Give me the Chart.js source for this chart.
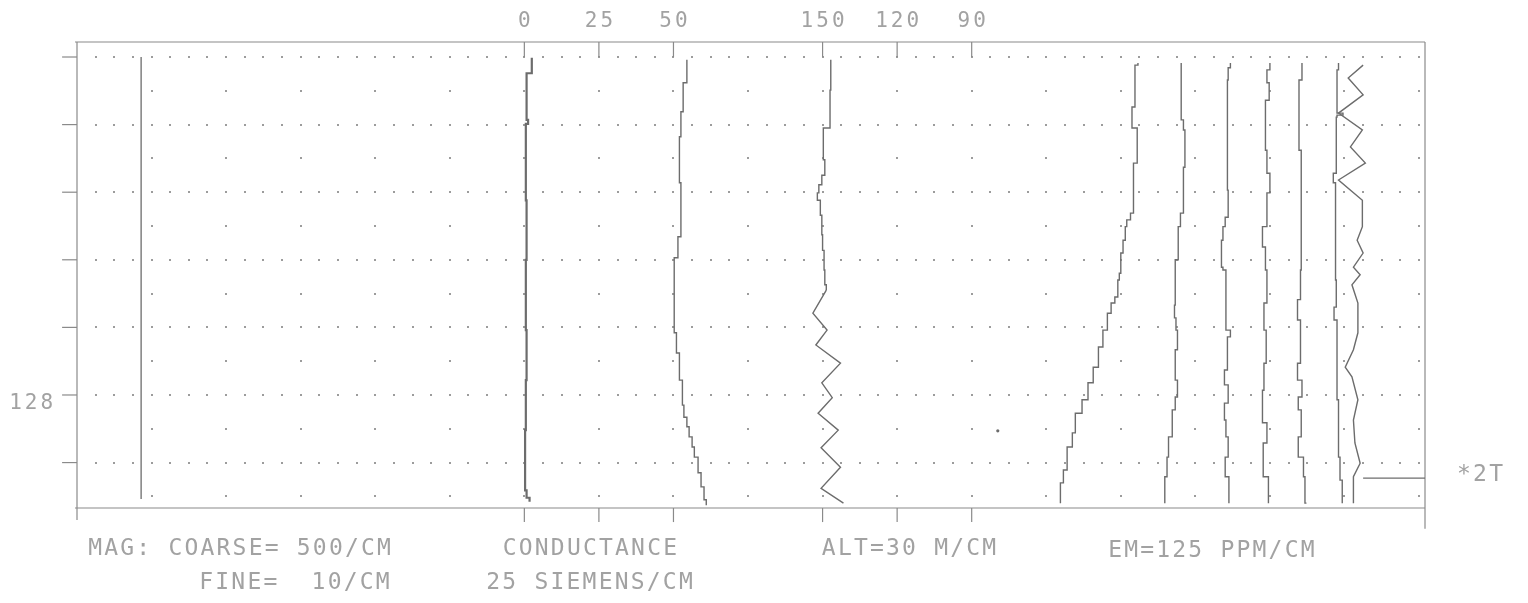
<!DOCTYPE html>
<html>
<head>
<meta charset="utf-8">
<title>Profile plot</title>
<script src="https://cdn.jsdelivr.net/npm/chart.js@4.4.1/dist/chart.umd.min.js"></script>
<style>
  html, body { margin: 0; padding: 0; background: #fff; }
  canvas { display: block; }
</style>
</head>
<body>
<canvas id="profileChart" width="1528" height="603"></canvas>
<script>
// every trace is a list of [fiducial row, position across sheet in cm]
const magCoarse = [[0.00, 0.86], [6.54, 0.86]];

const magFine = [[0.01, 6.10], [0.24, 6.03], [0.93, 6.05], [0.99, 6.02], [2.12, 6.03], [3.00, 6.02],
  [4.04, 6.03], [4.78, 6.02], [5.52, 6.01], [6.41, 6.03], [6.52, 6.07], [6.58, 6.07]];

const conductance = [[0.04, 8.18], [0.38, 8.13], [0.81, 8.10], [1.18, 8.08], [1.86, 8.10], [2.66, 8.06],
  [2.97, 8.01], [4.08, 8.04], [4.38, 8.08], [4.78, 8.12], [5.15, 8.14], [5.33, 8.18], [5.47, 8.21],
  [5.62, 8.25], [5.77, 8.28], [5.92, 8.33], [6.15, 8.37], [6.36, 8.41], [6.55, 8.44], [6.63, 8.44]];

const altSteps = [[0.04, 10.11], [0.49, 10.10], [1.05, 10.01], [1.52, 10.03], [1.75, 9.99], [1.89, 9.95],
  [2.01, 9.93], [2.12, 9.97], [2.34, 9.99], [2.63, 10.00], [2.86, 10.02], [3.15, 10.03], [3.37, 10.05],
  [3.45, 10.05]];

const altZigzag = [[3.45, 10.05], [3.79, 9.87], [4.04, 10.06], [4.26, 9.91], [4.53, 10.24], [4.82, 9.99],
  [5.04, 10.13], [5.27, 9.94], [5.52, 10.21], [5.78, 9.98], [6.07, 10.24], [6.38, 9.98], [6.60, 10.28]];

const em1 = [[0.09, 14.23], [0.12, 14.19], [0.74, 14.15], [1.05, 14.22], [1.57, 14.17], [2.31, 14.13],
  [2.41, 14.08], [2.51, 14.06], [2.71, 14.03], [2.90, 14.00], [3.20, 13.98], [3.30, 13.96], [3.55, 13.92],
  [3.64, 13.87], [3.79, 13.82], [4.04, 13.76], [4.29, 13.70], [4.59, 13.63], [4.82, 13.56], [5.07, 13.48],
  [5.27, 13.39], [5.56, 13.35], [5.77, 13.28], [6.11, 13.23], [6.30, 13.19], [6.60, 13.19]];

const em2 = [[0.09, 14.81], [0.93, 14.84], [1.08, 14.86], [1.63, 14.84], [2.31, 14.80], [2.51, 14.77],
  [3.00, 14.73], [3.67, 14.72], [3.86, 14.74], [4.04, 14.76], [4.33, 14.73], [4.78, 14.76], [5.03, 14.73],
  [5.22, 14.69], [5.62, 14.64], [5.92, 14.62], [6.21, 14.59], [6.60, 14.59]];

const em3 = [[0.09, 15.47], [0.16, 15.44], [0.34, 15.43], [1.97, 15.44], [2.37, 15.40], [2.51, 15.37],
  [2.71, 15.35], [3.11, 15.37], [3.15, 15.41], [4.04, 15.47], [4.14, 15.43], [4.63, 15.39], [4.85, 15.44],
  [5.12, 15.39], [5.37, 15.41], [5.62, 15.44], [5.92, 15.40], [6.21, 15.45], [6.60, 15.45]];

const em4 = [[0.09, 16.00], [0.19, 15.96], [0.38, 15.99], [0.64, 15.94], [1.38, 15.96], [1.72, 16.00],
  [2.01, 15.96], [2.51, 15.90], [2.81, 15.94], [3.15, 15.96], [3.64, 15.92], [4.04, 15.95], [4.53, 15.92],
  [4.93, 15.90], [5.41, 15.96], [5.71, 15.91], [6.21, 15.98], [6.60, 15.98]];

const em5 = [[0.09, 16.43], [0.34, 16.39], [1.38, 16.42], [3.15, 16.41], [3.59, 16.37], [3.89, 16.41],
  [4.53, 16.37], [4.78, 16.43], [5.03, 16.38], [5.22, 16.42], [5.62, 16.38], [5.92, 16.45], [6.21, 16.47],
  [6.60, 16.49]];

const em6 = [[0.09, 16.92], [0.19, 16.90], [0.83, 16.98], [0.86, 16.90], [0.89, 16.89], [1.72, 16.85],
  [1.86, 16.88], [3.30, 16.89], [3.70, 16.86], [3.89, 16.90], [5.07, 16.92], [5.92, 16.94], [6.26, 16.97],
  [6.60, 16.97]];

const em7 = [[0.12, 17.25], [0.31, 17.05], [0.56, 17.25], [0.83, 16.92], [1.08, 17.24], [1.33, 17.08],
  [1.57, 17.28], [1.82, 16.92], [2.12, 17.24], [2.51, 17.24], [2.71, 17.17], [2.90, 17.25], [3.11, 17.12],
  [3.22, 17.21], [3.37, 17.10], [3.64, 17.18], [4.08, 17.18], [4.33, 17.12], [4.59, 17.01], [4.73, 17.10],
  [5.07, 17.18], [5.37, 17.12], [5.71, 17.14], [6.01, 17.21], [6.21, 17.12], [6.60, 17.12]];

const markerLine = [[6.23, 17.25], [6.23, 18.08]];
const strayDots = [[5.53, 12.35]];

// scale marks along the top and bottom edges
const scaleTickPos = [6, 7, 8, 10, 11, 12];
const scaleTickLabels = ["0", "25", "50", "150", "120", "90"];
// fiducial marks on the left edge
const fidTicks = [0, 1, 2, 3, 4, 5, 6];
const fidTickLabels = ["", "", "", "", "", "128", ""];

const captions = [
  { text: "MAG: COARSE= 500/CM", cm: 0.15, fid: 7.28 },
  { text: "FINE=  10/CM", cm: 1.64, fid: 7.78 },
  { text: "CONDUCTANCE", cm: 5.71, fid: 7.28 },
  { text: "25 SIEMENS/CM", cm: 5.49, fid: 7.78 },
  { text: "ALT=30 M/CM", cm: 9.99, fid: 7.28 },
  { text: "EM=125 PPM/CM", cm: 13.83, fid: 7.31 },
  { text: "*2T", cm: 18.51, fid: 6.18 },
];

const INK = "#6c6c6c";
const FRAME = "#8a8a8a";
const DOTS = "#9c9c9c";
const TEXT = "#a2a2a2";

const toPoints = (arr) => arr.map(([fid, cm]) => ({ x: cm, y: fid }));

function trace(data, stepped, width) {
  return {
    data: toPoints(data),
    borderColor: INK,
    borderWidth: width || 1.4,
    stepped: stepped ? "after" : false,
    pointRadius: 0,
    fill: false,
    tension: 0,
  };
}

const plotterFrame = {
  id: "plotterFrame",
  beforeDatasetsDraw(chart) {
    const { ctx, chartArea: area, scales: { x, y } } = chart;
    ctx.save();

    // dotted grid: full rows every 1/4 cm, half rows every cm
    ctx.fillStyle = DOTS;
    for (let row = 0; row <= 13; row++) {
      const step = row % 2 === 0 ? 0.25 : 1;
      const py = Math.round(y.getPixelForValue(row / 2));
      for (let c = step; c <= 18.001; c += step) {
        const px = Math.round(x.getPixelForValue(c));
        ctx.fillRect(px - 1, py - 1, 2, 2);
      }
    }

    ctx.strokeStyle = FRAME;
    ctx.lineWidth = 1.2;
    const line = (x1, y1, x2, y2) => {
      ctx.beginPath();
      ctx.moveTo(x1, y1);
      ctx.lineTo(x2, y2);
      ctx.stroke();
    };
    line(area.left - 2, area.top, area.right, area.top);
    line(area.left - 2, area.bottom, area.right, area.bottom);
    line(area.left, area.top, area.left, y.getPixelForValue(6.85));
    line(area.right, area.top, area.right, y.getPixelForValue(6.98));

    scaleTickPos.forEach((cm) => {
      const px = x.getPixelForValue(cm);
      line(px, area.top, px, y.getPixelForValue(0));
      line(px, area.bottom, px, y.getPixelForValue(6.88));
    });
    fidTicks.forEach((f) => {
      const py = y.getPixelForValue(f);
      line(x.getPixelForValue(-0.2), py, area.left, py);
    });
    ctx.restore();
  },
  afterDraw(chart) {
    const { ctx, scales: { x, y } } = chart;
    ctx.save();
    ctx.fillStyle = TEXT;
    ctx.textBaseline = "middle";

    ctx.font = "21px 'DejaVu Sans Mono', monospace";
    ctx.letterSpacing = "3px";
    ctx.textAlign = "center";
    scaleTickPos.forEach((cm, i) => {
      ctx.fillText(scaleTickLabels[i], x.getPixelForValue(cm) + 1.5, y.getPixelForValue(-0.53));
    });
    ctx.textAlign = "right";
    fidTicks.forEach((f, i) => {
      if (fidTickLabels[i]) {
        ctx.fillText(fidTickLabels[i], x.getPixelForValue(-0.28), y.getPixelForValue(f + 0.13));
      }
    });

    ctx.font = "23px 'DejaVu Sans Mono', monospace";
    ctx.letterSpacing = "2.2px";
    ctx.textAlign = "left";
    captions.forEach((c) => {
      ctx.fillText(c.text, x.getPixelForValue(c.cm), y.getPixelForValue(c.fid));
    });
    ctx.restore();
  },
};

const ctx = document.getElementById("profileChart").getContext("2d");
new Chart(ctx, {
  type: "line",
  data: {
    datasets: [
      trace(magCoarse, false, 1.3),
      trace(magFine, true, 2.2),
      trace(conductance, true),
      trace(altSteps, true),
      trace(altZigzag, false),
      trace(em1, true),
      trace(em2, true),
      trace(em3, true),
      trace(em4, true),
      trace(em5, true),
      trace(em6, true),
      trace(em7, false),
      trace(markerLine, false, 1.2),
      {
        data: toPoints(strayDots),
        showLine: false,
        pointRadius: 1.6,
        pointBackgroundColor: INK,
        pointBorderWidth: 0,
      },
    ],
  },
  options: {
    responsive: false,
    animation: false,
    layout: { padding: { left: 77, right: 103, top: 42, bottom: 95 } },
    scales: {
      x: { type: "linear", min: 0, max: 18.08, display: false },
      y: { type: "linear", min: -0.222, max: 6.672, reverse: true, display: false },
    },
    plugins: {
      legend: { display: false },
      tooltip: { enabled: false },
    },
  },
  plugins: [plotterFrame],
});
</script>
</body>
</html>
